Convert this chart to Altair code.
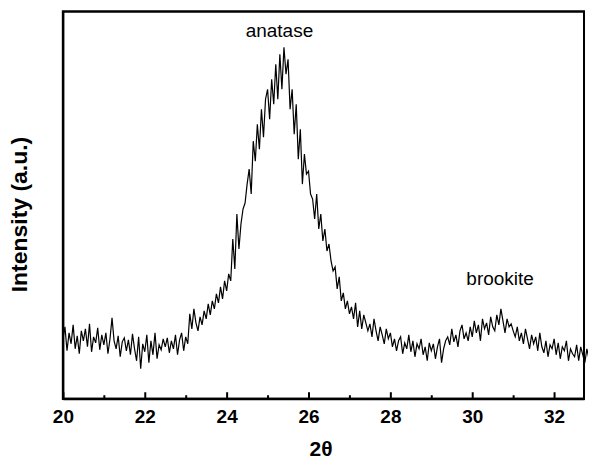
import altair as alt
import pandas as pd

# 2-theta grid start / step and intensity readings (arbitrary units)
theta_start = 20.0
theta_step = 0.05
intensity = [
    60, 72, 48, 66, 55, 74, 50, 63, 45, 68,
    58, 70, 52, 75, 47, 62, 56, 71, 49, 64,
    54, 66, 45, 60, 81, 58, 50, 63, 42, 57,
    61, 48, 59, 44, 65, 50, 38, 62, 30, 55,
    47, 64, 36, 58, 44, 66, 40, 54, 49, 60,
    52, 61, 46, 58, 50, 64, 44, 59, 66, 48,
    62, 55, 85, 70, 90, 76, 68, 82, 74, 88,
    80, 95, 84, 98, 90, 105, 96, 112, 100, 118,
    108, 125, 118, 160, 130, 185, 150, 175, 190, 196,
    215, 230, 205, 258, 238, 275, 250, 290, 262, 300,
    310, 280, 320, 295, 335, 300, 345, 310, 352, 325,
    340, 290, 310, 265, 295, 240, 270, 215, 245, 225,
    228, 205, 200, 180, 205, 170, 185, 158, 170, 148,
    155, 138, 128, 132, 110, 122, 98, 106, 90, 98,
    85, 92, 80, 96, 72, 88, 70, 84, 76, 68,
    75, 62, 80, 68, 58, 72, 64, 55, 70, 60,
    66, 52, 60, 48, 58, 62, 45, 56, 50, 64,
    47, 58, 42, 55, 50, 60, 44, 52, 38, 56,
    48, 55, 40, 52, 60, 36, 50, 58, 62, 54,
    70, 57, 64, 52, 68, 74, 60, 66, 58, 72,
    62, 78, 66, 74, 58, 80, 70, 76, 64, 82,
    72, 68, 84, 74, 90, 78, 66, 80, 72, 75,
    68, 62, 72, 58, 66, 55, 70, 60, 50, 64,
    55, 62, 48, 66, 52, 46, 58, 42, 54, 50,
    60, 44, 56, 40, 52, 48, 58, 38, 50, 45,
    42, 54, 38, 52, 44, 36, 50, 40, 48,
]
major_ticks = [20, 22, 24, 26, 28, 30, 32]
minor_ticks = [21, 23, 25, 27, 29, 31]
peak_labels = ["anatase", "brookite"]
peak_label_x = [25.29, 30.68]
peak_label_y = [368, 120]

x_min, x_max = 20, 32.73
y_min, y_max = 0, 388

df = pd.DataFrame({
    "x": [round(theta_start + theta_step * i, 2) for i in range(len(intensity))],
    "y": intensity,
})
df_lab = pd.DataFrame({"label": peak_labels, "x": peak_label_x, "y": peak_label_y})
# frame box from the axis extents
df_frame = pd.DataFrame({
    "x": [x_min], "x2": [x_max], "y": [y_min], "y2": [y_max],
})

xscale = alt.Scale(domain=[x_min, x_max], nice=False, zero=False)
yscale = alt.Scale(domain=[y_min, y_max], nice=False, zero=False)

base = alt.Chart(df)

line = base.mark_line(color="black", strokeWidth=1.2).encode(
    x=alt.X("x:Q", scale=xscale, axis=alt.Axis(
        values=major_ticks, format="d", title="2θ", ticks=False, grid=False,
        domainColor="black", domainWidth=2, labelFlush=False,
        labelFont="Liberation Sans", labelFontSize=19, labelFontWeight="bold",
        labelColor="black", labelPadding=9,
        titleFont="Liberation Sans", titleFontSize=21, titleFontWeight="bold",
        titleColor="black", titleX=258, titleY=51, titleBaseline="middle",
        titleAlign="center")),
    y=alt.Y("y:Q", scale=yscale, axis=alt.Axis(
        title="Intensity (a.u.)", labels=False, ticks=False, grid=False,
        domainColor="black", domainWidth=2,
        titleFont="Liberation Sans", titleFontSize=23, titleFontWeight="bold",
        titleColor="black", titleX=-43, titleY=203, titleAngle=270,
        titleAlign="center", titleBaseline="middle")),
)

frame = alt.Chart(df_frame).mark_rect(
    fillOpacity=0, stroke="black", strokeWidth=2, strokeOpacity=1
).encode(
    x=alt.X("x:Q", scale=xscale, axis=None),
    x2="x2:Q",
    y=alt.Y("y:Q", scale=yscale, axis=None),
    y2="y2:Q",
)

# inward ticks drawn as axes shifted into the plot
major = base.mark_line(opacity=0).encode(
    x=alt.X("x:Q", scale=xscale, axis=alt.Axis(
        orient="bottom", values=major_ticks, labels=False, domain=False, grid=False,
        title=None, ticks=True, tickSize=7, tickWidth=2, tickColor="black", offset=-7)),
    y=alt.Y("y:Q", scale=yscale, axis=None),
)
minor = base.mark_line(opacity=0).encode(
    x=alt.X("x:Q", scale=xscale, axis=alt.Axis(
        orient="bottom", values=minor_ticks, labels=False, domain=False, grid=False,
        title=None, ticks=True, tickSize=4, tickWidth=2, tickColor="black", offset=-4)),
    y=alt.Y("y:Q", scale=yscale, axis=None),
)

texts = alt.Chart(df_lab).mark_text(
    font="Liberation Sans", fontSize=19, color="black", align="center", baseline="middle"
).encode(
    x=alt.X("x:Q", scale=xscale, axis=None),
    y=alt.Y("y:Q", scale=yscale, axis=None),
    text="label:N")

chart = alt.layer(line, frame, major, minor, texts).resolve_axis(
    x="independent", y="independent"
).properties(
    width=522, height=388,
    autosize=alt.AutoSizeParams(type="none"),
    padding={"left": 55, "top": 3, "right": 4, "bottom": 59},
    background="white",
).configure_view(stroke="black", strokeWidth=2)

chart.save("out.html", embed_options={"renderer": "svg", "actions": False})
